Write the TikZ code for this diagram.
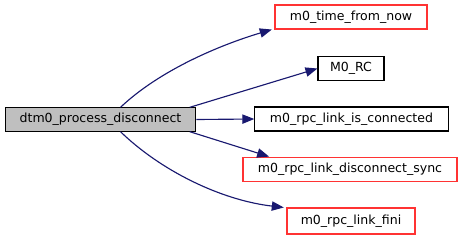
\documentclass[tikz,border=0pt]{standalone}
\usepackage{fontspec}
\setmainfont{DejaVu Sans}
\usetikzlibrary{arrows.meta}
\definecolor{edgeblue}{HTML}{191970}
\definecolor{rootgray}{HTML}{BFBFBF}
\definecolor{linkred}{HTML}{FF3333}
\begin{document}
\begin{tikzpicture}[x=0.75pt,y=-0.75pt,
    fn/.style={draw=black,line width=0.8pt,inner sep=0pt,font=\fontsize{9.4pt}{11pt}\selectfont},
    fnred/.style={fn,draw=linkred},
    call/.style={draw=edgeblue,line width=0.85pt,-{Triangle[length=9pt,width=7pt]}}]
    % Rahmen
    \useasboundingbox (0,0) rectangle (464,240);
    % Funktionen
    \node[fn,fill=rootgray,minimum width=143pt,minimum height=17.5pt] (root) at (100.5,119.5) {dtm0\_process\_disconnect};
    \node[fnred,minimum width=114pt,minimum height=18pt] (time) at (351,17) {m0\_time\_from\_now};
    \node[fn,minimum width=49.5pt,minimum height=18.5pt] (rc) at (351,68.5) {M0\_RC};
    \node[fn,minimum width=145pt,minimum height=18pt] (conn) at (351.5,119) {m0\_rpc\_link\_is\_connected};
    \node[fnred,minimum width=160.5pt,minimum height=18.5pt] (sync) at (350,169.5) {m0\_rpc\_link\_disconnect\_sync};
    \node[fnred,minimum width=96pt,minimum height=19.5pt] (fini) at (351,221) {m0\_rpc\_link\_fini};
    % Aufrufe
    \draw[call] ([xshift=15pt]root.north) .. controls (160,70) and (220,45) .. ([xshift=-2pt]time.south west);
    \draw[call] ([xshift=67pt]root.north) -- (rc.west);
    \draw[call] (root.east) -- (conn.west);
    \draw[call] ([xshift=67pt]root.south) -- ([xshift=20pt]sync.north west);
    \draw[call] ([xshift=15pt]root.south) .. controls (160,170) and (220,200) .. ([xshift=-2pt]fini.north west);
\end{tikzpicture}
\end{document}
